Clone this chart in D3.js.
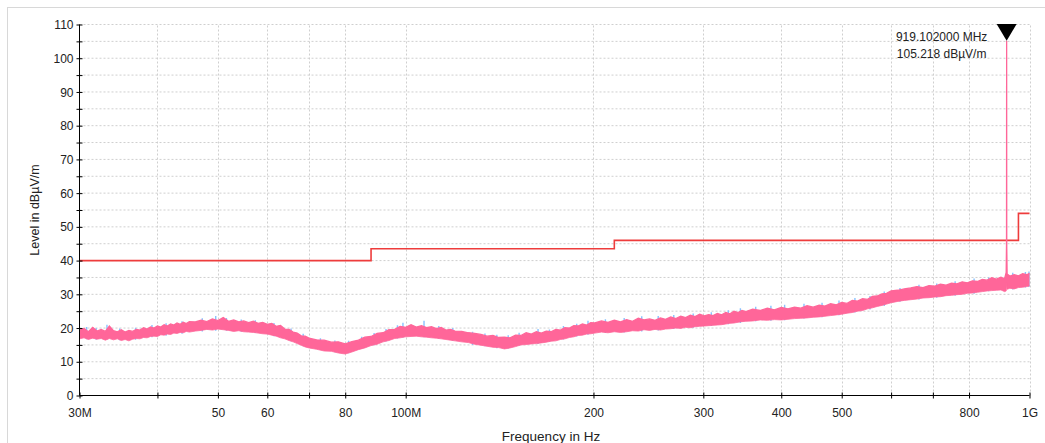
<!DOCTYPE html>
<html>
<head>
<meta charset="utf-8">
<script src="https://cdn.jsdelivr.net/npm/d3@7"></script>
<style>
  html, body { margin: 0; padding: 0; background: #fff; }
  svg { display: block; font-family: "Liberation Sans", Arial, sans-serif; }
</style>
</head>
<body>
<svg id="chart" width="1045" height="443"></svg>
<script>
// ---------------- DATA ----------------
const freqMHz = [
  30,30.5,31,31.5,32,32.5,33,33.5,34,34.5,35,35.5,36,36.5,37,37.5,38,38.5,39,39.5,40,40.5,41,41.5,42,42.5,43,43.5,44,44.5,45,
  46,47,48,49,50,51,52,53,54,55,56,57,58,59,60,61,62,63,64,65,66,67,68,69,70,
  72,74,76,78,80,82,84,86,88,90,92,94,96,98,100,102,104,106,108,110,112,114,116,118,120,
  123,126,129,132,135,138,141,144,147,150,153,156,159,162,165,168,171,174,177,180,183,186,189,192,195,198,
  201,206,211,216,221,226,231,236,241,246,251,256,261,266,271,276,281,286,291,296,301,306,311,316,321,326,331,336,341,346,351,
  360,370,380,390,400,410,420,430,440,450,460,470,480,490,500,510,520,530,540,550,560,570,580,590,600,
  615,630,645,660,675,690,705,720,735,750,765,780,795,810,825,840,855,870,885,900,912,917.5,918.7,919.102,919.5,920.7,930,945,960,975,990,1000
];
const pinkHi = [
  19.4,19.9,18.9,20.2,19.1,19.6,19.0,20.6,19.2,18.9,19.5,18.8,19.3,19.0,19.6,19.4,20.1,19.7,20.3,20.0,20.6,20.3,21.0,20.6,21.2,20.9,21.5,21.1,21.7,21.3,21.9,
  21.8,22.3,21.9,22.7,22.2,23.1,22.0,22.4,21.8,22.1,21.6,22.0,21.4,21.7,21.1,21.4,20.5,20.8,19.7,19.6,18.8,18.5,17.7,17.6,17.0,
  16.5,16.4,15.8,15.9,15.3,16.0,16.4,17.3,17.5,18.4,18.6,19.5,19.6,20.5,20.2,21.0,20.3,20.7,20.1,20.4,19.8,20.2,19.4,19.6,19.1,
  19.0,18.6,18.4,18.1,17.6,17.8,17.2,17.3,17.1,17.9,17.8,18.6,18.2,18.9,18.5,19.1,18.9,19.6,19.4,20.1,20.0,20.7,20.6,21.2,20.9,21.6,
  21.5,22.1,21.7,22.3,21.8,22.5,22.0,22.9,22.4,22.7,22.3,23.0,22.6,23.3,22.8,23.5,23.1,23.8,23.4,24.1,23.6,24.0,23.7,24.3,23.9,24.6,24.2,25.0,24.6,25.2,24.9,
  25.6,25.2,25.9,25.4,26.1,25.7,26.2,25.9,26.6,26.2,26.8,26.5,27.2,26.9,27.6,27.3,28.2,28.0,28.7,28.5,29.4,29.5,30.1,30.3,31.0,
  31.2,31.6,31.9,32.3,32.0,32.6,32.4,33.0,32.7,33.3,33.1,33.7,33.4,34.0,33.8,34.4,34.2,34.9,34.5,35.1,34.6,36.5,45.0,105.218,44.0,36.0,35.4,35.8,35.5,36.1,35.8,36.2
];
const pinkLo = [
  16.8,17.1,16.6,17.0,16.7,16.9,16.4,16.9,16.5,16.8,16.3,16.6,16.2,16.7,16.9,16.8,17.2,17.1,17.5,17.6,17.5,18.0,17.9,18.2,18.1,18.5,18.4,18.7,18.6,19.0,18.8,
  19.1,19.3,19.6,19.4,19.7,19.5,19.3,19.0,19.2,18.9,18.8,18.7,18.5,18.3,18.2,17.9,17.6,17.1,16.8,16.3,15.9,15.4,14.9,14.4,14.1,
  13.7,13.2,13.1,12.6,12.3,12.9,13.6,14.1,14.8,15.2,15.9,16.3,16.9,17.1,17.4,17.5,17.6,17.4,17.3,17.1,17.0,16.8,16.6,16.4,16.2,
  15.9,15.7,15.2,14.9,14.6,14.3,14.2,13.8,14.1,14.5,15.0,15.1,15.3,15.4,15.6,15.8,16.1,16.2,16.6,16.8,17.2,17.4,17.8,17.9,18.2,18.3,
  18.5,18.8,18.6,18.9,18.7,18.9,19.2,19.1,19.5,19.3,19.6,19.4,19.7,19.8,20.0,19.9,20.2,20.1,20.4,20.5,20.6,20.7,20.8,20.9,21.0,21.2,21.4,21.5,21.7,21.9,22.0,
  22.1,22.4,22.3,22.5,22.4,22.6,22.8,22.9,23.0,23.2,23.3,23.5,23.7,23.9,24.1,24.4,24.6,25.0,25.2,25.7,26.0,26.4,26.7,27.1,27.5,
  27.9,28.2,28.4,28.6,28.9,29.0,29.2,29.3,29.6,29.7,29.9,30.0,30.3,30.4,30.6,30.8,31.0,31.1,31.2,31.3,30.8,31.0,32.5,33.5,32.5,31.5,31.8,31.6,32.0,32.1,32.3,32.5
];

// second trace (blue) showing where it exceeds the pink trace
const blueF = [30.8,31.9,33.2,34.8,36.9,39.2,41.3,43.8,47.2,49.6,51.6,54.5,57.4,61.5,65.5,68.5,73,77,81,85,89,93,97,99,107,113,119,128,134,140,146,152,163,170,179,188,196,209,224,239,254,269,289,309,329,344,364,385,405,435,465,495,525,555,585,620,665,710,760,815,860,940,985,998];
const blueTop = [20.3,20.0,21.0,19.9,20.1,20.9,21.4,22.0,22.9,23.6,23.0,22.5,22.3,21.5,19.9,18.3,17.0,16.3,16.2,17.4,18.5,19.7,20.8,21.6,22.2,20.6,20.0,18.9,18.4,18.0,17.9,18.6,19.7,19.6,20.6,21.3,22.2,22.6,23.0,23.5,23.6,23.9,24.3,24.7,25.3,25.9,26.3,26.6,26.9,27.2,27.5,28.2,28.9,29.5,30.8,31.9,32.8,33.2,33.9,34.7,35.0,36.4,36.6,36.8];
const blueBot = [16.7,16.5,16.6,16.4,16.5,17.3,17.7,18.3,19.0,19.2,19.2,18.9,18.5,17.6,16.1,14.6,13.5,12.8,12.5,13.8,14.9,16.0,16.9,17.2,17.3,16.8,16.2,15.0,14.6,14.0,13.9,14.8,15.3,15.9,16.6,17.5,18.0,18.5,18.7,19.0,19.3,19.7,20.1,20.6,21.1,21.5,22.0,22.2,22.3,22.8,23.2,23.8,24.6,25.5,26.5,27.8,28.5,29.0,29.6,30.2,30.9,31.4,32.0,32.2];

// limit line
const limitF = [30, 88, 88, 216, 216, 960, 960, 1000];
const limitV = [40, 40, 43.5, 43.5, 46, 46, 54, 54];

// axes
const xTickVals = [30,40,50,60,70,80,100,200,300,400,500,600,700,800,1000];
const xTickLabels = ["30M","","50","60","","80","100M","200","300","400","500","","","800","1G"];
const yTickVals = [0,5,10,15,20,25,30,35,40,45,50,55,60,65,70,75,80,85,90,95,100,105,110];
const yTickLabels = ["0","","10","","20","","30","","40","","50","","60","","70","","80","","90","","100","","110"];

// marker
const markerFreq = 919.102;
const markerLevel = 105.218;

// ---------------- DRAW ----------------
const svg = d3.select("#chart");
const x = d3.scaleLog().domain([30, 1000]).range([79.5, 1029.5]);
const y = d3.scaleLinear().domain([0, 110]).range([395.5, 24.5]);

// outer frame
svg.append("rect").attr("x", 7.5).attr("y", 7.5).attr("width", 1200).attr("height", 600)
  .attr("fill", "none").attr("stroke", "#d8d8d8");

// grid
const grid = svg.append("g").attr("stroke", "#cfcfcf").attr("stroke-dasharray", "2,2").attr("stroke-width", 1);
grid.selectAll("line.h").data(yTickVals.filter(v => v > 0)).enter().append("line")
  .attr("x1", x(30)).attr("x2", x(1000)).attr("y1", d => y(d)).attr("y2", d => y(d));
grid.selectAll("line.v").data(xTickVals.filter(v => v > 30)).enter().append("line")
  .attr("x1", d => Math.round(x(d)) + 0.5).attr("x2", d => Math.round(x(d)) + 0.5)
  .attr("y1", y(0)).attr("y2", y(110));

// clip
svg.append("clipPath").attr("id", "plotclip").append("rect")
  .attr("x", x(30)).attr("y", y(110) - 20).attr("width", x(1000) - x(30) + 1).attr("height", y(0) - y(110) + 20);

const plot = svg.append("g").attr("clip-path", "url(#plotclip)");

// limit line
const limitPts = limitF.map((f, i) => [f, limitV[i]]);
plot.append("path").datum(limitPts)
  .attr("fill", "none").attr("stroke", "#ee3c3c").attr("stroke-width", 1.6)
  .attr("d", d3.line().x(d => x(d[0])).y(d => y(d[1])));

// blue trace spikes
plot.append("g").selectAll("line").data(blueF).enter().append("line")
  .attr("x1", d => x(d)).attr("x2", d => x(d))
  .attr("y1", (d, i) => y(blueBot[i])).attr("y2", (d, i) => y(blueTop[i]))
  .attr("stroke", "#88c2ff").attr("stroke-width", 1.4);

// pink trace band
const pts = freqMHz.map((f, i) => ({f, hi: pinkHi[i], lo: pinkLo[i]}));
plot.append("path").datum(pts)
  .attr("fill", "#ff6699").attr("stroke", "none")
  .attr("d", d3.area().x(d => x(d.f)).y0(d => y(d.lo)).y1(d => y(d.hi)));
plot.append("path").datum(pts)
  .attr("fill", "none").attr("stroke", "#ff6699").attr("stroke-width", 1.3)
  .attr("d", d3.line().x(d => x(d.f)).y(d => y(d.hi)));
plot.append("path").datum(pts)
  .attr("fill", "none").attr("stroke", "#ff6699").attr("stroke-width", 0.8)
  .attr("d", d3.line().x(d => x(d.f)).y(d => y(d.lo)));

// axes
const xAxis = svg.append("g").attr("transform", `translate(0,${y(0)})`)
  .call(d3.axisBottom(x).tickValues(xTickVals).tickFormat((d, i) => xTickLabels[i]).tickSize(3).tickSizeOuter(0));
xAxis.select(".domain").attr("stroke", "#000").attr("d", `M${x(30)},0H${x(1000)}`);
xAxis.selectAll(".tick line").attr("y1", -3).attr("y2", 3).attr("stroke", "#000");
xAxis.selectAll(".tick text").attr("y", 21).attr("dy", 0)
  .attr("font-size", 12).attr("fill", "#222").attr("font-family", "Liberation Sans, Arial, sans-serif");

const yAxis = svg.append("g").attr("transform", `translate(${x(30)},0)`)
  .call(d3.axisLeft(y).tickValues(yTickVals).tickFormat((d, i) => yTickLabels[i]).tickSize(3).tickSizeOuter(0));
yAxis.select(".domain").attr("stroke", "#000").attr("d", `M0,${y(0)}V${y(110)}`);
yAxis.selectAll(".tick line").attr("x1", -3).attr("x2", 3).attr("stroke", "#000");
yAxis.selectAll(".tick text").attr("x", -6).attr("dy", "0.34em")
  .attr("font-size", 12).attr("fill", "#222").attr("font-family", "Liberation Sans, Arial, sans-serif");

// axis titles
svg.append("text").attr("transform", `translate(39,${(y(0) + y(110)) / 2}) rotate(-90)`)
  .attr("text-anchor", "middle").attr("font-size", 12.5).attr("fill", "#222")
  .text("Level in dBµV/m");
svg.append("text").attr("x", 551).attr("y", 441)
  .attr("text-anchor", "middle").attr("font-size", 13.5).attr("fill", "#222")
  .text("Frequency in Hz");

// marker
const mx = x(markerFreq), my = y(markerLevel);
svg.append("path")
  .attr("d", `M${mx - 10},${y(110) - 0.5}L${mx + 10},${y(110) - 0.5}L${mx},${my}Z`)
  .attr("fill", "#000");
const mt = svg.append("text").attr("text-anchor", "middle").attr("font-size", 12).attr("fill", "#222");
mt.append("tspan").attr("x", mx - 65).attr("y", 41).text(`${markerFreq.toFixed(6)} MHz`);
mt.append("tspan").attr("x", mx - 65).attr("y", 58).text(`${markerLevel.toFixed(3)} dBµV/m`);
</script>
</body>
</html>
